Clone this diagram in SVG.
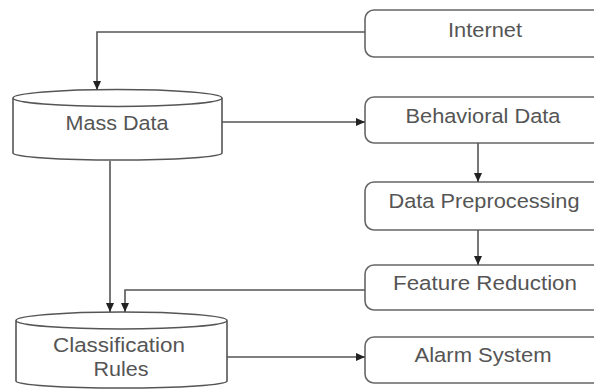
<svg xmlns="http://www.w3.org/2000/svg" width="594" height="390" viewBox="0 0 594 390">
<defs>
<style>
.box{fill:#fff;stroke:#666;stroke-width:1.6}
.cyl{fill:#fff;stroke:#555;stroke-width:1.6}
.lbl{font-family:"Liberation Sans",Arial,sans-serif;font-size:20.5px;fill:#555;text-anchor:middle}
.con{fill:none;stroke:#555;stroke-width:1.6}
</style>
<marker id="ah" markerWidth="10" markerHeight="10" refX="9" refY="5" orient="auto" markerUnits="userSpaceOnUse">
<path d="M0,1 L9,5 L0,9 Z" fill="#222"/>
</marker>
</defs>
<rect width="594" height="390" fill="#fff"/>
<g id="internet">
<rect class="box" x="365" y="10" width="250" height="47" rx="9"/>
<text class="lbl" x="485" y="37" textLength="74" lengthAdjust="spacingAndGlyphs">Internet</text>
</g>
<g id="mass-data">
<path class="cyl" d="M13,98 L13,153 A104.5,7 0 0 0 222,153 L222,98 A104.5,8.5 0 0 0 13,98 A104.5,8.5 0 0 0 222,98"/>
<text class="lbl" x="117" y="130" textLength="103" lengthAdjust="spacingAndGlyphs">Mass Data</text>
</g>
<g id="behavioral-data">
<rect class="box" x="365" y="97" width="250" height="46" rx="9"/>
<text class="lbl" x="483" y="123" textLength="155" lengthAdjust="spacingAndGlyphs">Behavioral Data</text>
</g>
<g id="data-preprocessing">
<rect class="box" x="365" y="182" width="250" height="48" rx="9"/>
<text class="lbl" x="484" y="208" textLength="191" lengthAdjust="spacingAndGlyphs">Data Preprocessing</text>
</g>
<g id="feature-reduction">
<rect class="box" x="365" y="265" width="250" height="45" rx="9"/>
<text class="lbl" x="485" y="290" textLength="184" lengthAdjust="spacingAndGlyphs">Feature Reduction</text>
</g>
<g id="classification-rules">
<path class="cyl" d="M16,320.5 L16,381 A105.5,7 0 0 0 227,381 L227,320.5 A105.5,8.5 0 0 0 16,320.5 A105.5,8.5 0 0 0 227,320.5"/>
<text class="lbl" x="119" y="352" textLength="132" lengthAdjust="spacingAndGlyphs">Classification</text>
<text class="lbl" x="121" y="376" textLength="55" lengthAdjust="spacingAndGlyphs">Rules</text>
</g>
<g id="alarm-system">
<rect class="box" x="365" y="337" width="250" height="46" rx="9"/>
<text class="lbl" x="483" y="362" textLength="137" lengthAdjust="spacingAndGlyphs">Alarm System</text>
</g>
<g id="connectors">
<path class="con" d="M365,32 L97,32 L97,90" marker-end="url(#ah)"/>
<path class="con" d="M222,122 L365,122" marker-end="url(#ah)"/>
<path class="con" d="M478,143 L478,182" marker-end="url(#ah)"/>
<path class="con" d="M478,230 L478,265" marker-end="url(#ah)"/>
<path class="con" d="M365,290 L125,290 L125,312" marker-end="url(#ah)"/>
<path class="con" d="M110,161 L110,312" marker-end="url(#ah)"/>
<path class="con" d="M227,357 L365,357" marker-end="url(#ah)"/>
</g>
</svg>
